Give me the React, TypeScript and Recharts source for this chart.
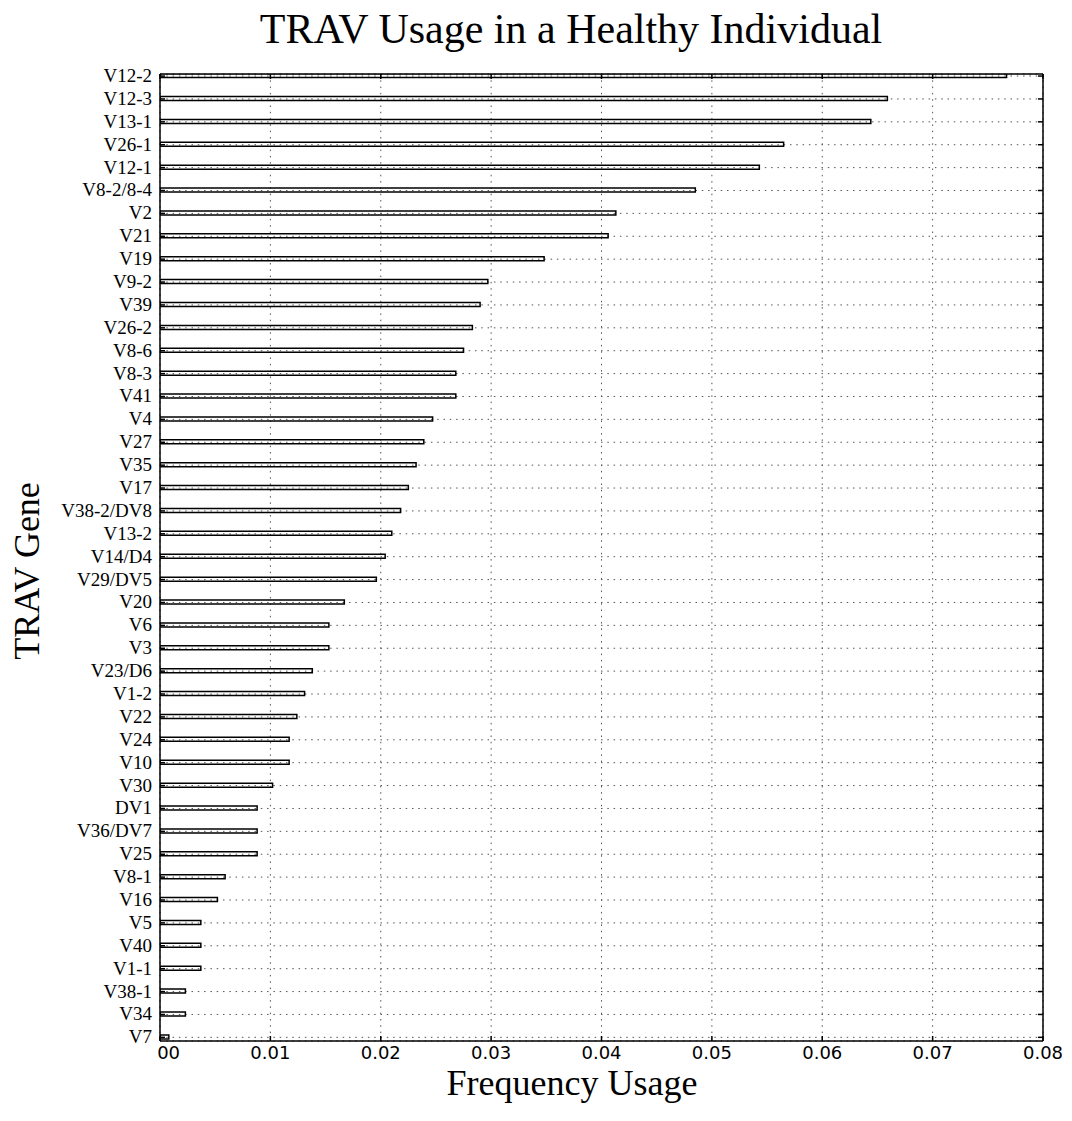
import { BarChart, Bar, XAxis, YAxis, CartesianGrid } from 'recharts';

const genes = [
  'V12-2', 'V12-3', 'V13-1', 'V26-1', 'V12-1', 'V8-2/8-4', 'V2', 'V21', 'V19', 'V9-2',
  'V39', 'V26-2', 'V8-6', 'V8-3', 'V41', 'V4', 'V27', 'V35', 'V17', 'V38-2/DV8',
  'V13-2', 'V14/D4', 'V29/DV5', 'V20', 'V6', 'V3', 'V23/D6', 'V1-2', 'V22', 'V24',
  'V10', 'V30', 'DV1', 'V36/DV7', 'V25', 'V8-1', 'V16', 'V5', 'V40', 'V1-1',
  'V38-1', 'V34', 'V7',
];

const usage = [
  0.0767, 0.0659, 0.0644, 0.0565, 0.0543, 0.0485, 0.0413, 0.0406, 0.0348, 0.0297,
  0.029, 0.0283, 0.0275, 0.0268, 0.0268, 0.0247, 0.0239, 0.0232, 0.0225, 0.0218,
  0.021, 0.0204, 0.0196, 0.0167, 0.0153, 0.0153, 0.0138, 0.0131, 0.0124, 0.0117,
  0.0117, 0.0102, 0.0088, 0.0088, 0.0088, 0.0059, 0.0052, 0.0037, 0.0037, 0.0037,
  0.0023, 0.0023, 0.0008,
];

const freqTicks = [0, 0.01, 0.02, 0.03, 0.04, 0.05, 0.06, 0.07, 0.08];

const data = genes.map((g, i) => ({ idx: i, gene: g, value: usage[i] }));
const rowTicks = genes.map((_, i) => i);

const SERIF = '"Liberation Serif", "Times New Roman", serif';
const SANS = '"DejaVu Sans", sans-serif';

function GeneTick({ x, y, payload }: any) {
  const ax = x + 8;
  return (
    <g>
      <line x1={ax} x2={ax + 5} y1={y} y2={y} stroke="#000" strokeWidth={1.5} />
      <text x={x} y={y} dy={6} textAnchor="end" fontFamily={SERIF} fontSize={19} fill="#000">
        {genes[payload.value]}
      </text>
    </g>
  );
}

function RightTick({ x, y }: any) {
  return <line x1={x} x2={x - 5} y1={y} y2={y} stroke="#000" strokeWidth={1.5} />;
}

function FreqTick({ x, y, payload }: any) {
  const v = payload.value as number;
  const zero = v === 0;
  return (
    <g>
      {zero && (
        <defs>
          <clipPath id="clip-zero">
            <rect x={x - 2} y={y} width={40} height={30} />
          </clipPath>
        </defs>
      )}
      <line x1={x} x2={x} y1={y} y2={y - 5} stroke="#000" strokeWidth={1.5} />
      <text
        x={x}
        y={y + 18}
        textAnchor="middle"
        fontFamily={SANS}
        fontSize={18}
        fill="#000"
        clipPath={zero ? 'url(#clip-zero)' : undefined}
      >
        {v.toFixed(2)}
      </text>
    </g>
  );
}

function TopTick({ x, y }: any) {
  return <line x1={x} x2={x} y1={y} y2={y + 5} stroke="#000" strokeWidth={1.5} />;
}

export default function App() {
  return (
    <div style={{ position: 'absolute', left: 0, top: 0, width: 1072, height: 1121, background: '#fff' }}>
      <BarChart
        width={1072}
        height={1121}
        data={data}
        layout="vertical"
        margin={{ top: 0, right: 0, bottom: 0, left: 0 }}
      >
        <CartesianGrid xAxisId="b" yAxisId="l" stroke="#555" strokeDasharray="1.5 4.8" />
        <XAxis
          xAxisId="b"
          type="number"
          domain={[0, 0.08]}
          ticks={freqTicks}
          allowDataOverflow
          height={80}
          tickSize={0}
          tickMargin={0}
          tickLine={false}
          axisLine={{ stroke: '#000', strokeWidth: 1.5 }}
          tick={(p: any) => <FreqTick {...p} />}
          interval={0}
        />
        <XAxis
          xAxisId="t"
          orientation="top"
          type="number"
          domain={[0, 0.08]}
          ticks={freqTicks}
          allowDataOverflow
          height={74}
          tickSize={0}
          tickMargin={0}
          tickLine={false}
          axisLine={{ stroke: '#000', strokeWidth: 1.5 }}
          tick={(p: any) => <TopTick {...p} />}
          interval={0}
        />
        <YAxis
          yAxisId="l"
          type="number"
          dataKey="idx"
          domain={[-0.09, 42.16]}
          ticks={rowTicks}
          allowDataOverflow
          width={160}
          tickSize={0}
          tickMargin={8}
          tickLine={false}
          axisLine={{ stroke: '#000', strokeWidth: 1.5 }}
          tick={(p: any) => <GeneTick {...p} />}
          interval={0}
        />
        <YAxis
          yAxisId="r"
          orientation="right"
          type="number"
          dataKey="idx"
          domain={[-0.09, 42.16]}
          ticks={rowTicks}
          allowDataOverflow
          width={29}
          tickSize={0}
          tickMargin={0}
          tickLine={false}
          axisLine={{ stroke: '#000', strokeWidth: 1.5 }}
          tick={(p: any) => <RightTick {...p} />}
          interval={0}
        />
        <Bar
          xAxisId="b"
          yAxisId="l"
          dataKey="value"
          barSize={4}
          fill="none"
          stroke="#000"
          strokeWidth={1.5}
          isAnimationActive={false}
        />
      </BarChart>
      <svg
        width={1072}
        height={1121}
        style={{ position: 'absolute', left: 0, top: 0, pointerEvents: 'none' }}
      >
        <text x={571} y={43} textAnchor="middle" fontFamily={SERIF} fontSize={42} fill="#000">
          TRAV Usage in a Healthy Individual
        </text>
        <text x={572} y={1095} textAnchor="middle" fontFamily={SERIF} fontSize={36} fill="#000">
          Frequency Usage
        </text>
        <text
          x={39}
          y={571}
          textAnchor="middle"
          fontFamily={SERIF}
          fontSize={36}
          fill="#000"
          transform="rotate(-90 39 571)"
        >
          TRAV Gene
        </text>
      </svg>
    </div>
  );
}
